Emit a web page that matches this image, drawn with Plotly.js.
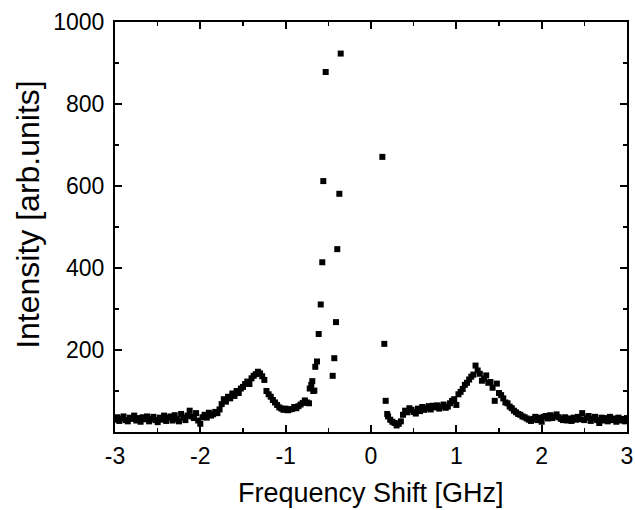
<!DOCTYPE html>
<html>
<head>
<meta charset="utf-8">
<script src="https://cdn.plot.ly/plotly-3.0.1.min.js"></script>
<style>
html,body{margin:0;padding:0;background:#fff;}
#chart{width:635px;height:510px;}
</style>
</head>
<body>
<div id="chart"></div>
<script>
// Frequency shift (GHz)
var freqShift = [
 -3.000,-2.975,-2.950,-2.925,-2.900,-2.875,-2.850,-2.825,-2.800,-2.775,
 -2.750,-2.725,-2.700,-2.675,-2.650,-2.625,-2.600,-2.575,-2.550,-2.525,
 -2.500,-2.475,-2.450,-2.425,-2.400,-2.375,-2.350,-2.325,-2.300,-2.275,
 -2.250,-2.225,-2.200,-2.175,-2.150,-2.125,-2.100,-2.075,-2.050,-2.025,
 -2.000,-1.975,-1.950,-1.925,-1.900,-1.875,-1.850,-1.825,-1.800,-1.775,
 -1.750,-1.725,-1.700,-1.675,-1.650,-1.625,-1.600,-1.575,-1.550,-1.525,
 -1.500,-1.475,-1.450,-1.425,-1.400,-1.375,-1.350,-1.325,-1.300,-1.275,
 -1.250,-1.225,-1.200,-1.175,-1.150,-1.125,-1.100,-1.075,-1.050,-1.025,
 -1.000,-0.975,-0.950,-0.925,-0.900,-0.875,-0.850,-0.825,-0.800,-0.775,
 -0.750,-0.727,-0.718,-0.700,-0.688,-0.676,-0.664,-0.653,-0.633,-0.613,
 -0.589,-0.571,-0.559,-0.531,
 -0.449,-0.430,-0.410,-0.395,-0.371,-0.355,
 0.133,0.156,0.172,0.190,
 0.200,0.225,0.250,0.275,0.300,0.325,0.350,0.375,0.400,0.425,
 0.450,0.475,0.500,0.525,0.550,0.575,0.600,0.625,0.650,0.675,
 0.700,0.725,0.750,0.775,0.800,0.825,0.850,0.875,0.900,0.925,
 0.950,0.975,1.000,1.025,1.050,1.075,1.100,1.125,1.150,1.175,
 1.200,1.225,1.250,1.275,1.300,1.325,1.350,1.375,1.400,1.425,
 1.450,1.475,1.500,1.525,1.550,1.575,1.600,1.625,1.650,1.675,
 1.700,1.725,1.750,1.775,1.800,1.825,1.850,1.875,1.900,1.925,
 1.950,1.975,2.000,2.025,2.050,2.075,2.100,2.125,2.150,2.175,
 2.200,2.225,2.250,2.275,2.300,2.325,2.350,2.375,2.400,2.425,
 2.450,2.475,2.500,2.525,2.550,2.575,2.600,2.625,2.650,2.675,
 2.700,2.725,2.750,2.775,2.800,2.825,2.850,2.875,2.900,2.925,
 2.950,2.975,3.000
];
// Intensity (arb. units)
var intensity = [
 30,36,27,33,38,29,26,35,32,40,
 28,34,25,36,31,38,26,32,37,29,
 24,35,30,40,27,35,38,28,41,32,
 26,44,35,29,40,52,38,34,46,28,
 20,36,42,35,47,40,43,49,46,55,
 68,80,74,86,82,94,88,100,95,106,
 110,117,123,117,131,137,141,147,143,136,
 127,100,92,86,78,72,66,60,57,54,
 57,53,55,56,61,58,63,67,71,77,
 72,70,106,115,124,100,101,159,172,239,
 311,414,612,878,
 137,180,268,446,581,923,
 671,215,76,44,
 38,30,25,22,16,20,26,42,52,48,
 58,54,49,45,57,51,61,54,58,63,
 55,64,60,65,57,62,67,59,62,70,
 76,80,66,92,98,105,115,120,128,135,
 140,162,150,142,125,130,138,120,122,108,
 76,118,95,90,82,72,70,62,58,52,
 48,44,42,38,36,33,30,27,32,37,
 29,35,25,37,39,33,41,34,38,43,
 36,32,29,36,28,33,27,35,30,37,
 31,46,29,35,39,27,33,37,29,22,
 35,28,34,26,37,29,33,25,35,28,
 32,26,34
];
var xTickVals = [-3,-2,-1,0,1,2,3];
var xTickText = ['-3','-2','-1','0','1','2','3'];
var yTickVals = [200,400,600,800,1000];
var yTickText = ['200','400','600','800','1000'];
var xTitle = 'Frequency Shift [GHz]';
var yTitle = 'Intensity [arb.units]';

var fontFam = 'Liberation Sans, Arial, sans-serif';
var trace = {
  x: freqShift, y: intensity, type: 'scatter', mode: 'markers',
  marker: {symbol: 'square', size: 6, color: '#000'},
  hoverinfo: 'skip'
};
var axisCommon = {
  showline: true, linecolor: '#000', linewidth: 2, mirror: 'allticks',
  ticks: 'inside', ticklen: 7, tickwidth: 2, tickcolor: '#000',
  showgrid: false, zeroline: false,
  tickfont: {family: fontFam, size: 23, color: '#000'}
};
var layout = {
  width: 635, height: 510,
  margin: {l: 115, r: 8, t: 22, b: 78},
  paper_bgcolor: '#fff', plot_bgcolor: '#fff',
  showlegend: false,
  xaxis: Object.assign({}, axisCommon, {
    range: [-3, 3], tickmode: 'array', tickvals: xTickVals, ticktext: xTickText,
    ticklabelstandoff: 2,
    minor: {dtick: 0.5, ticks: 'inside', ticklen: 4, tickcolor: '#000', tickwidth: 1.5}
  }),
  yaxis: Object.assign({}, axisCommon, {
    range: [0, 1000], tickmode: 'array', tickvals: yTickVals, ticktext: yTickText,
    ticklabelstandoff: 4,
    minor: {dtick: 100, ticks: 'inside', ticklen: 4, tickcolor: '#000', tickwidth: 1.5}
  }),
  annotations: [
    {text: xTitle, xref: 'paper', yref: 'paper', x: 0.5, y: -0.149,
     xanchor: 'center', yanchor: 'middle', showarrow: false,
     font: {family: fontFam, size: 27, color: '#000'}},
    {text: yTitle, xref: 'paper', yref: 'paper', x: -0.17, y: 0.532,
     xanchor: 'center', yanchor: 'middle', showarrow: false, textangle: -90,
     font: {family: fontFam, size: 32, color: '#000'}}
  ]
};
Plotly.newPlot('chart', [trace], layout, {staticPlot: true});
</script>
</body>
</html>
